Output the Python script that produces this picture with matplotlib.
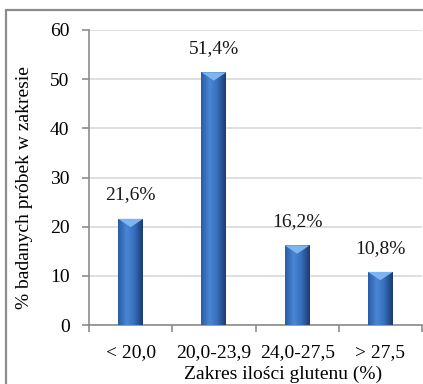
import numpy as np
import matplotlib
matplotlib.use('Agg')
import matplotlib.pyplot as plt
from matplotlib.colors import LinearSegmentedColormap
from matplotlib.patches import Rectangle, Polygon

plt.rcParams['font.family'] = ['Liberation Serif', 'DejaVu Serif']

kategorie = ['< 20,0', '20,0-23,9', '24,0-27,5', '> 27,5']
wartosci = [21.6, 51.4, 16.2, 10.8]
etykiety = ['21,6%', '51,4%', '16,2%', '10,8%']

FS = 14
W, H = 423, 384
fig = plt.figure(figsize=(W / 100, H / 100), dpi=100)
ax = fig.add_axes([89 / W, (H - 325) / H, (422 - 89) / W, (325 - 30) / H])

# ramka wokol wykresu
fig.patches.append(Rectangle((6 / W, -0.2), 1.2, (H - 10) / H + 0.2, transform=fig.transFigure,
                             fill=False, ec='#8c8c8c', lw=1.6, clip_on=False))

cmap = LinearSegmentedColormap.from_list('bar', [(0, '#2a5ca6'), (0.35, '#4a86d4'),
                                                 (0.65, '#3670bd'), (1, '#1a3c72')])
grad = np.linspace(0, 1, 64).reshape(1, -1)
szer = 0.30
x = np.arange(len(kategorie))

for xi, v in zip(x, wartosci):
    l, r = xi - szer / 2, xi + szer / 2
    rect = Rectangle((l, 0), szer, v, fc='none', ec='none')
    ax.add_patch(rect)
    im = ax.imshow(grad, extent=[l, r, 0, v], aspect='auto', cmap=cmap, zorder=3)
    im.set_clip_path(rect)
    ax.add_patch(Polygon([(l, v), (r, v), (xi, v - 1.7)], closed=True, fc='#7fb5ee', ec='none', zorder=4))
    ax.annotate(etykiety[xi], (xi, v), xytext=(0, 11), textcoords='offset points',
                ha='center', va='bottom', fontsize=FS, color='#1a1a1a')

ax.set_xlim(-0.5, 3.5)
ax.set_ylim(0, 60)
ax.set_yticks(range(0, 61, 10))
ax.yaxis.grid(True, color='#d9d9d9', lw=1.2)
ax.set_axisbelow(True)

ax.set_xticks(np.arange(-0.5, 4, 1))
ax.set_xticklabels([])
ax.set_xticks(x, minor=True)
ax.set_xticklabels(kategorie, minor=True)
ax.tick_params(axis='x', which='minor', length=0, pad=14, labelsize=FS)
ax.tick_params(axis='x', which='major', length=5, color='#8c8c8c', width=1.2, direction='out')
ax.tick_params(axis='y', length=5, color='#8c8c8c', width=1.2, pad=9, labelsize=FS)

for s in ['top', 'right']:
    ax.spines[s].set_visible(False)
for s in ['left', 'bottom']:
    ax.spines[s].set_color('#8c8c8c')
    ax.spines[s].set_linewidth(1.2)

ax.set_xlabel('Zakres ilości glutenu (%)', fontsize=FS)
ax.xaxis.set_label_coords((283 - 89) / (422 - 89), -(374 - 325) / (325 - 30))
ax.set_ylabel('% badanych próbek w zakresie', fontsize=FS)
ax.yaxis.set_label_coords(-(89 - 25) / (422 - 89), (325 - 188) / (325 - 30))
ax.xaxis.label.set_va('center')
ax.yaxis.label.set_va('center')

fig.savefig('out.png', dpi=100)
